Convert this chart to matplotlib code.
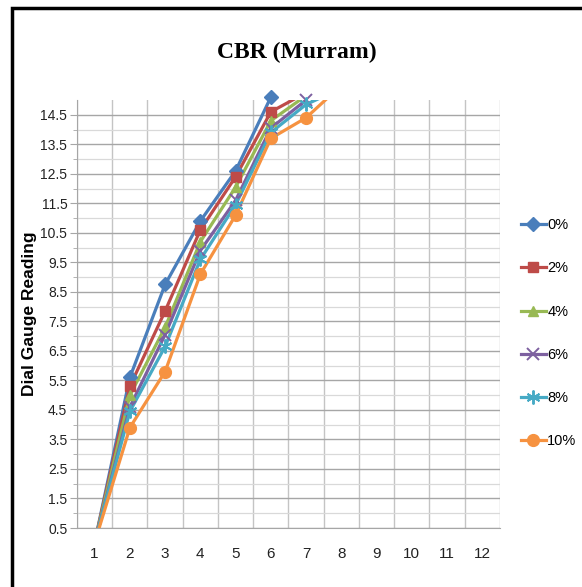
import matplotlib
matplotlib.use('Agg')
import matplotlib.pyplot as plt
import numpy as np
from matplotlib.patches import Rectangle
from matplotlib.lines import Line2D

# data (values above 15 are cut off by the axis)
x_cats = [1, 2, 3, 4, 5, 6, 7, 8]
pct_0 = [0, 5.6, 8.75, 10.9, 12.6, 15.1, 16.4, 17.6]
pct_2 = [0, 5.3, 7.85, 10.6, 12.4, 14.6, 15.25, 16.4]
pct_4 = [0, 5.0, 7.3, 10.2, 12.05, 14.3, 15.15, 16.2]
pct_6 = [0, 4.6, 7.05, 9.9, 11.6, 14.05, 15.0, 16.0]
pct_8 = [0, 4.45, 6.65, 9.6, 11.45, 13.9, 14.85, 15.4]
pct_10 = [0, 3.9, 5.8, 9.1, 11.1, 13.7, 14.4, 15.5]
labels = ['0%', '2%', '4%', '6%', '8%', '10%']
x_ticklabels = [str(i) for i in range(1, 13)]

colors = ['#4A7EBB', '#BE4B48', '#98B954', '#7D60A0', '#46AAC5', '#F69240']
markers = ['D', 's', '^', 'x', (6, 2, 0), 'o']
msizes = [7.5, 7.5, 7.5, 9, 10, 8.5]

tickfont = 'Liberation Sans'

fig = plt.figure(figsize=(5.82, 5.87), dpi=100)
ax = fig.add_axes([0.1323, 0.1005, 0.7268, 0.7291])

ymin, ymax = 0.5, 15.0
series = [pct_0, pct_2, pct_4, pct_6, pct_8, pct_10]
handles = []
for vals, c, m, ms, lab in zip(series, colors, markers, msizes, labels):
    v = np.array(vals, dtype=float)
    ax.plot(x_cats, v, color=c, lw=2.3, zorder=3)
    # markers sitting on the top edge stick out like in the original
    mv = np.where((v <= 15.12) & (v >= ymin), v, np.nan)
    mew = 1.4 if (m == 'x' or isinstance(m, tuple)) else 1
    ax.plot(x_cats, mv, marker=m, ms=ms, color=c, mec=c, mew=mew, ls='none', zorder=4, clip_on=False)
    handles.append(Line2D([0], [0], color=c, lw=2.3, marker=m, ms=ms, mec=c, mew=mew))

ax.set_xlim(0.5, 12.5)
ax.set_ylim(ymin, ymax)
ax.set_xticks(range(1, 13))
ax.set_xticklabels(x_ticklabels, family=tickfont, fontsize=11, color='#222222')
ax.set_yticks(np.arange(0.5, 15, 1.0))
ax.set_yticklabels(['%.1f' % t for t in np.arange(0.5, 15, 1.0)], family=tickfont, fontsize=10,
                   color='#222222')
ax.set_yticks(np.arange(1, 15, 1.0), minor=True)
ax.set_xticks(np.arange(0.5, 12.6, 1.0), minor=True)
ax.tick_params(axis='x', which='both', length=0, pad=14)
ax.tick_params(axis='y', which='major', length=5, color='#A6A6A6', pad=2)
ax.tick_params(axis='y', which='minor', length=3, color='#A6A6A6')
ax.grid(which='major', axis='y', color='#A6A6A6', lw=1.0)
ax.grid(which='minor', axis='y', color='#D9D9D9', lw=0.9)
ax.grid(which='minor', axis='x', color='#C4C4C4', lw=1.0)
ax.set_axisbelow(True)
for s in ['top', 'right']:
    ax.spines[s].set_visible(False)
ax.spines['bottom'].set_color('#A6A6A6')
ax.spines['left'].set_color('#A6A6A6')

ax.set_ylabel('Dial Gauge Reading', fontsize=12.5, fontweight='bold', family='Liberation Sans')
ax.yaxis.set_label_coords(-0.095, 0.5)
fig.text(0.51, 0.91, 'CBR (Murram)', ha='center', va='center', family='Liberation Serif',
         fontweight='bold', fontsize=17)

leg = fig.legend(handles, labels, loc='upper left', bbox_to_anchor=(0.885, 0.638), frameon=False,
                 prop={'family': tickfont, 'size': 10.5}, handlelength=1.7, handletextpad=0.1,
                 labelspacing=2.0, borderaxespad=0)

fig.patches.append(Rectangle((0.02, -0.01), 1.0, 0.997, transform=fig.transFigure, fill=False,
                             edgecolor='black', lw=2.5))

fig.savefig('out.png', dpi=100)
